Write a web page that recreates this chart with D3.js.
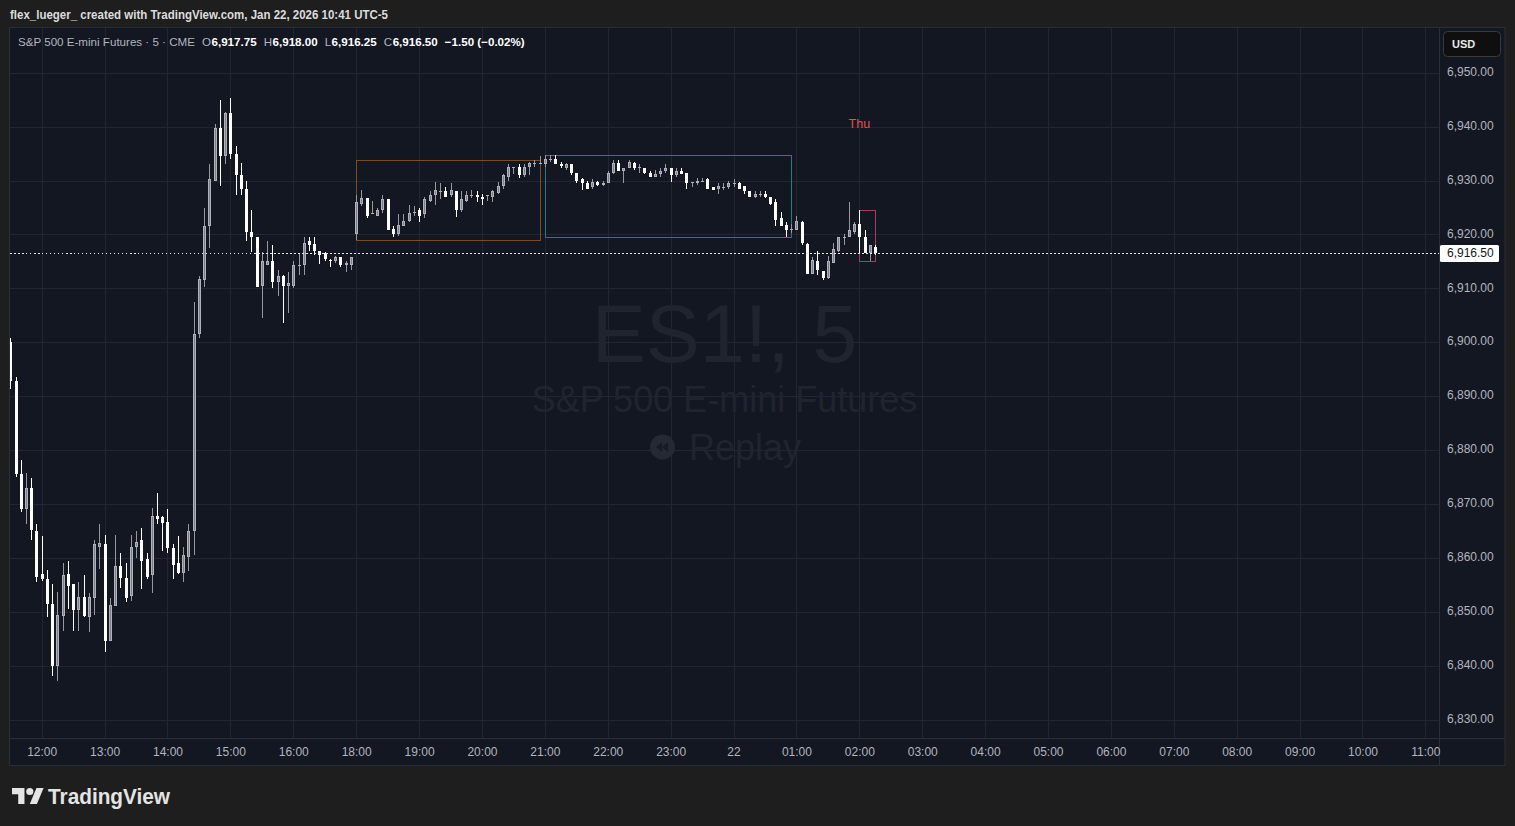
<!DOCTYPE html>
<html>
<head>
<meta charset="utf-8">
<script src="https://cdn.jsdelivr.net/npm/d3@7"></script>
<style>
  html, body { margin: 0; padding: 0; background: #1e1e1e; }
  svg { display: block; }
  text { font-family: "Liberation Sans", Arial, sans-serif; }
</style>
</head>
<body>
<svg id="chart" width="1515" height="826"></svg>
<script>
// ES1! 5-minute bars. Bar index 0 = 12:00; the 17:00 maintenance hour is skipped.
const firstBar = -6;
const opens = [
  6900.00, 6892.75, 6875.50, 6869.00, 6873.00, 6865.00,
  6857.00, 6856.00, 6851.50, 6840.00, 6849.25, 6857.00, 6855.25, 6850.25, 6852.75, 6849.00, 6852.50, 6862.00,
  6862.50, 6844.50, 6851.00, 6858.50, 6856.25, 6853.00, 6862.00, 6863.25, 6859.75, 6856.75, 6867.75, 6867.50,
  6866.75, 6861.75, 6859.00, 6857.25, 6860.25, 6865.00, 6901.50, 6911.50, 6921.50, 6930.00, 6939.75, 6934.50,
  6942.50, 6935.00, 6931.00, 6928.50, 6920.50, 6919.50, 6910.50, 6914.25, 6915.00, 6911.25, 6912.25, 6910.50,
  6910.50, 6914.25, 6914.25, 6918.75, 6918.25, 6917.00, 6916.50, 6915.25, 6915.00, 6915.75, 6914.25, 6914.25,
  6920.00, 6925.75, 6926.75, 6923.75, 6923.50, 6924.50, 6926.50, 6921.00, 6920.00, 6921.50, 6922.50, 6924.25,
  6924.50, 6923.75, 6926.25, 6927.25, 6928.00, 6928.00, 6927.25, 6928.00, 6924.50, 6926.25, 6927.25, 6927.25,
  6927.00, 6927.25, 6927.00, 6927.75, 6929.00, 6930.75, 6932.50, 6932.50, 6931.00, 6932.50, 6933.25, 6933.25,
  6933.00, 6934.00, 6934.00, 6933.00, 6932.25, 6933.00, 6931.50, 6930.25, 6929.50, 6928.75, 6929.75, 6929.25,
  6929.50, 6931.50, 6933.25, 6931.75, 6932.25, 6933.25, 6932.50, 6932.25, 6931.50, 6930.75, 6931.25, 6931.75,
  6932.25, 6931.00, 6931.75, 6931.50, 6929.75, 6929.50, 6930.00, 6930.25, 6928.75, 6928.50, 6928.75, 6928.75,
  6929.50, 6929.50, 6929.00, 6928.00, 6927.00, 6927.50, 6927.50, 6927.00, 6926.00, 6923.00, 6921.75, 6920.75,
  6920.75, 6922.25, 6918.25, 6912.75, 6915.00, 6913.25, 6912.00, 6914.75, 6917.00, 6919.50, 6919.50, 6920.50,
  6922.00, 6919.50, 6916.50, 6917.75
];
const highs = [
  6900.75, 6893.50, 6878.25, 6875.75, 6874.75, 6866.25,
  6864.00, 6857.75, 6855.25, 6853.75, 6859.00, 6859.50, 6855.25, 6855.50, 6856.75, 6853.50, 6863.25, 6866.25,
  6864.25, 6852.50, 6864.25, 6861.00, 6859.00, 6864.25, 6865.00, 6865.50, 6861.00, 6869.25, 6872.00, 6867.75,
  6869.00, 6862.50, 6864.00, 6862.00, 6866.25, 6907.50, 6912.25, 6925.00, 6933.00, 6940.50, 6945.00, 6942.75,
  6945.25, 6936.50, 6933.25, 6930.00, 6924.50, 6919.50, 6916.75, 6918.75, 6918.00, 6913.50, 6912.50, 6913.00,
  6915.00, 6916.50, 6919.50, 6919.50, 6919.50, 6917.00, 6916.75, 6915.50, 6916.00, 6915.75, 6915.00, 6915.75,
  6927.25, 6928.25, 6926.75, 6926.25, 6925.00, 6927.25, 6926.50, 6921.50, 6923.75, 6923.75, 6925.50, 6925.25,
  6925.00, 6927.00, 6928.00, 6929.75, 6929.50, 6928.75, 6929.50, 6928.00, 6928.00, 6928.00, 6928.25, 6928.00,
  6927.50, 6927.25, 6928.25, 6929.75, 6931.25, 6933.00, 6932.50, 6933.00, 6933.00, 6933.50, 6933.75, 6934.50,
  6934.75, 6934.75, 6934.75, 6933.50, 6933.25, 6933.00, 6931.50, 6930.50, 6930.00, 6930.25, 6930.00, 6930.00,
  6931.75, 6933.75, 6933.75, 6932.25, 6933.75, 6933.50, 6933.00, 6932.25, 6931.75, 6932.00, 6932.25, 6933.00,
  6932.25, 6932.25, 6932.25, 6931.50, 6929.75, 6930.50, 6930.50, 6930.50, 6928.75, 6929.50, 6929.50, 6930.00,
  6930.25, 6929.75, 6929.00, 6928.00, 6928.00, 6928.00, 6928.00, 6927.00, 6926.50, 6924.25, 6922.25, 6922.00,
  6923.50, 6922.50, 6918.50, 6915.75, 6917.00, 6913.25, 6916.00, 6918.50, 6919.50, 6920.00, 6926.00, 6922.25,
  6924.50, 6920.75, 6918.00, 6918.00
];
const lows = [
  6891.25, 6875.00, 6868.50, 6866.25, 6863.25, 6855.50,
  6855.75, 6849.00, 6838.00, 6837.25, 6846.50, 6850.50, 6846.50, 6846.50, 6849.00, 6846.25, 6849.50, 6858.00,
  6842.50, 6844.50, 6851.00, 6854.50, 6851.75, 6852.00, 6860.00, 6854.25, 6856.00, 6853.50, 6866.25, 6861.25,
  6861.00, 6856.00, 6857.00, 6855.50, 6857.50, 6860.50, 6900.75, 6910.25, 6917.50, 6930.00, 6929.00, 6933.00,
  6934.00, 6927.25, 6927.25, 6918.75, 6916.75, 6910.25, 6904.50, 6914.25, 6910.00, 6908.50, 6903.50, 6905.50,
  6910.00, 6912.50, 6912.50, 6917.00, 6916.25, 6914.50, 6915.00, 6914.00, 6914.75, 6914.00, 6913.00, 6913.50,
  6919.00, 6925.25, 6923.00, 6923.75, 6923.50, 6924.00, 6920.75, 6919.50, 6919.75, 6921.50, 6922.25, 6923.50,
  6922.25, 6923.00, 6926.00, 6925.50, 6926.50, 6927.00, 6927.00, 6923.25, 6924.25, 6926.00, 6926.75, 6926.00,
  6925.50, 6926.25, 6926.00, 6927.50, 6928.50, 6930.00, 6931.25, 6930.50, 6930.75, 6931.00, 6932.50, 6933.00,
  6932.50, 6933.50, 6933.00, 6932.25, 6932.00, 6931.00, 6929.50, 6928.25, 6928.50, 6928.50, 6929.00, 6929.00,
  6929.50, 6931.25, 6931.75, 6929.50, 6932.25, 6932.00, 6931.50, 6931.25, 6930.75, 6930.75, 6930.75, 6931.50,
  6929.75, 6930.75, 6931.25, 6928.50, 6928.75, 6929.25, 6929.75, 6928.50, 6928.25, 6927.50, 6928.25, 6928.50,
  6928.75, 6928.50, 6927.50, 6927.00, 6926.75, 6927.00, 6926.75, 6925.50, 6921.50, 6921.50, 6919.50, 6920.25,
  6920.75, 6918.00, 6912.75, 6912.75, 6912.50, 6911.50, 6911.75, 6914.75, 6916.75, 6918.00, 6919.50, 6920.00,
  6916.50, 6916.50, 6915.00, 6916.25
];
const closes = [
  6892.75, 6875.50, 6869.00, 6873.00, 6865.25, 6856.50,
  6856.00, 6851.50, 6840.00, 6849.50, 6856.75, 6854.75, 6850.25, 6852.75, 6849.25, 6852.75, 6862.50, 6862.75,
  6844.50, 6851.25, 6858.50, 6856.25, 6852.50, 6862.00, 6863.00, 6859.50, 6856.50, 6867.75, 6867.25, 6866.50,
  6861.75, 6858.75, 6857.25, 6860.50, 6865.00, 6901.50, 6911.75, 6921.50, 6930.25, 6939.75, 6934.50, 6942.50,
  6935.00, 6931.00, 6928.50, 6920.50, 6919.50, 6910.25, 6915.00, 6915.00, 6911.25, 6912.25, 6910.50, 6911.00,
  6914.25, 6914.25, 6918.50, 6918.00, 6917.00, 6916.25, 6915.50, 6915.00, 6915.75, 6914.25, 6914.75, 6915.75,
  6926.00, 6926.75, 6923.50, 6924.00, 6924.50, 6926.50, 6920.75, 6920.00, 6921.75, 6922.50, 6924.00, 6924.25,
  6923.50, 6926.50, 6927.25, 6928.25, 6928.00, 6927.00, 6928.25, 6924.50, 6926.50, 6927.25, 6927.25, 6927.00,
  6926.50, 6927.25, 6928.00, 6929.00, 6931.00, 6932.50, 6932.50, 6931.00, 6932.50, 6933.25, 6933.25, 6933.25,
  6934.00, 6934.00, 6933.00, 6932.75, 6933.00, 6931.50, 6930.00, 6929.50, 6928.50, 6929.75, 6929.25, 6929.50,
  6931.50, 6933.25, 6931.75, 6932.25, 6933.50, 6932.25, 6932.50, 6931.50, 6930.75, 6931.25, 6931.75, 6932.25,
  6931.00, 6931.75, 6931.25, 6929.50, 6929.75, 6930.00, 6930.00, 6928.50, 6928.25, 6929.00, 6928.75, 6929.50,
  6929.50, 6928.50, 6928.00, 6927.00, 6927.50, 6927.50, 6927.00, 6925.75, 6922.75, 6921.50, 6920.75, 6921.00,
  6922.50, 6918.50, 6912.75, 6915.25, 6913.50, 6912.00, 6915.00, 6917.25, 6919.50, 6919.50, 6920.75, 6922.00,
  6919.50, 6916.50, 6918.00, 6916.50
];

// Axis labels: one per hour (12 bars), bar index 132 is the day change.
const timeLabels = ["12:00", "13:00", "14:00", "15:00", "16:00", "18:00", "19:00", "20:00", "21:00",
  "22:00", "23:00", "22", "01:00", "02:00", "03:00", "04:00", "05:00", "06:00", "07:00", "08:00",
  "09:00", "10:00", "11:00"];
const priceTicks = [6830, 6840, 6850, 6860, 6870, 6880, 6890, 6900, 6910, 6920, 6930, 6940, 6950];

// Range boxes: first bar, last bar, upper and lower price.
const boxFrom = [60, 96, 156];
const boxTo = [95, 143, 159];
const boxTop = [6933.75, 6934.75, 6924.50];
const boxBottom = [6919.00, 6919.50, 6915.00];
const boxColors = ["#7c4e1f", "#257a84", "#a03f63"];

// Session marker
const dayMarkBar = 156;
const dayMarkPrice = 6940.5;
const dayMarkText = "Thu";

// ---------------------------------------------------------------
const W = 1515, H = 826;
const plot = { left: 10, right: 1439, top: 28, bottom: 738 };
const panel = { left: 9.5, right: 1505, top: 27.5, bottom: 765.5 };

const svg = d3.select("#chart");
const fmt = d3.format(",.2f");

const x = d3.scaleLinear().domain([-6.05, 266.6]).range([plot.left, plot.right]);
const y = d3.scaleLinear().domain([6826.59, 6958.31]).range([plot.bottom, plot.top]);

const bars = opens.map((o, k) => ({ i: firstBar + k, o, h: highs[k], l: lows[k], c: closes[k] }));
const last = bars[bars.length - 1];
const prev = bars[bars.length - 2];

// Background
svg.append("rect").attr("width", W).attr("height", H).attr("fill", "#1e1e1e");
svg.append("rect")
  .attr("x", panel.left).attr("y", panel.top)
  .attr("width", panel.right - panel.left).attr("height", panel.bottom - panel.top)
  .attr("fill", "#131722").attr("stroke", "#2c2f36");

const defs = svg.append("defs");
defs.append("clipPath").attr("id", "plotClip")
  .append("rect").attr("x", plot.left).attr("y", plot.top)
  .attr("width", plot.right - plot.left).attr("height", plot.bottom - plot.top);

// Grid
const tickBars = timeLabels.map((_, k) => k * 12);
const grid = svg.append("g").attr("shape-rendering", "crispEdges");
grid.selectAll("line.h").data(priceTicks).join("line")
  .attr("x1", plot.left).attr("x2", plot.right)
  .attr("y1", d => Math.round(y(d)) + 0.5).attr("y2", d => Math.round(y(d)) + 0.5)
  .attr("stroke", "#222632");
grid.selectAll("line.v").data(tickBars).join("line")
  .attr("x1", d => Math.round(x(d)) + 0.5).attr("x2", d => Math.round(x(d)) + 0.5)
  .attr("y1", plot.top).attr("y2", plot.bottom)
  .attr("stroke", "#222632");

// Watermark
const wm = svg.append("g").attr("fill", "#20242f");
const wmX = (plot.left + plot.right) / 2;
wm.append("text").attr("x", wmX).attr("y", 362).attr("text-anchor", "middle")
  .attr("font-size", 81).text("ES1!, 5");
wm.append("text").attr("x", wmX).attr("y", 412).attr("text-anchor", "middle")
  .attr("font-size", 36).text("S&P 500 E-mini Futures");
wm.append("text").attr("x", 689).attr("y", 460)
  .attr("font-size", 36).text("Replay");
wm.append("circle").attr("cx", 662.5).attr("cy", 447).attr("r", 12.5).attr("fill", "#252934");
wm.append("path").attr("fill", "#171b26")
  .attr("d", "M656,447 L662,442 L662,452 Z M662,447 L668,442 L668,452 Z");

// Range boxes
const boxG = svg.append("g").attr("clip-path", "url(#plotClip)").attr("shape-rendering", "crispEdges");
boxG.selectAll("rect").data(boxFrom).join("rect")
  .attr("x", (d) => Math.round(x(d)) + 0.5)
  .attr("y", (d, k) => Math.round(y(boxTop[k])) + 0.5)
  .attr("width", (d, k) => Math.round(x(boxTo[k])) - Math.round(x(d)))
  .attr("height", (d, k) => Math.round(y(boxBottom[k])) - Math.round(y(boxTop[k])))
  .attr("fill", "none")
  .attr("stroke", (d, k) => boxColors[k]);

// Candles
const candleG = svg.append("g").attr("clip-path", "url(#plotClip)").attr("shape-rendering", "crispEdges");
const isUp = b => b.c >= b.o;
const cxOf = b => Math.round(x(b.i));

candleG.selectAll("rect.wick").data(bars).join("rect").attr("class", "wick")
  .attr("x", b => cxOf(b))
  .attr("y", b => Math.round(y(b.h)))
  .attr("width", 1)
  .attr("height", b => Math.max(1, Math.round(y(b.l)) - Math.round(y(b.h))))
  .attr("fill", b => isUp(b) ? "#9598a1" : "#ffffff");

const bodyTop = b => Math.round(y(Math.max(b.o, b.c)));
const bodyH = b => Math.max(1, Math.round(y(Math.min(b.o, b.c))) - bodyTop(b));

candleG.selectAll("rect.body").data(bars).join("rect").attr("class", "body")
  .attr("x", b => cxOf(b) - 1)
  .attr("y", b => bodyTop(b))
  .attr("width", 3)
  .attr("height", b => bodyH(b))
  .attr("fill", b => isUp(b) ? "#afb2bb" : "#ffffff");

// darker core of the rising bodies
candleG.selectAll("rect.core").data(bars.filter(b => isUp(b) && bodyH(b) > 2)).join("rect")
  .attr("class", "core")
  .attr("x", b => cxOf(b))
  .attr("y", b => bodyTop(b) + 1)
  .attr("width", 1)
  .attr("height", b => bodyH(b) - 2)
  .attr("fill", "#7d808a");

// Session marker
svg.append("text")
  .attr("x", x(dayMarkBar)).attr("y", y(dayMarkPrice)).attr("dy", "0.35em")
  .attr("text-anchor", "middle").attr("font-size", 12.5).attr("fill", "#ec4b51")
  .text(dayMarkText);

// Last price line
svg.append("line")
  .attr("x1", plot.left).attr("x2", plot.right)
  .attr("y1", Math.round(y(last.c)) + 0.5).attr("y2", Math.round(y(last.c)) + 0.5)
  .attr("stroke", "#e6e8ee").attr("stroke-dasharray", "1.5,2.5").attr("shape-rendering", "crispEdges");

// Separators
const sep = svg.append("g").attr("stroke", "#2a2e39").attr("shape-rendering", "crispEdges");
sep.append("line").attr("x1", plot.left).attr("x2", panel.right)
  .attr("y1", plot.bottom + 0.5).attr("y2", plot.bottom + 0.5);
sep.append("line").attr("x1", plot.right + 0.5).attr("x2", plot.right + 0.5)
  .attr("y1", plot.top).attr("y2", panel.bottom);

// Time axis
const xAxis = d3.axisBottom(x).tickValues(tickBars)
  .tickFormat((d, k) => timeLabels[k]).tickSize(0).tickPadding(9);
const xg = svg.append("g").attr("transform", `translate(0,${plot.bottom})`).call(xAxis);
xg.select(".domain").remove();
xg.selectAll("text").attr("fill", "#b2b5be").attr("font-size", 12)
  .attr("font-family", "'Liberation Sans', Arial, sans-serif");

// Price axis
const yAxis = d3.axisRight(y).tickValues(priceTicks).tickFormat(fmt).tickSize(0).tickPadding(8);
const yg = svg.append("g").attr("transform", `translate(${plot.right},0)`).call(yAxis);
yg.select(".domain").remove();
yg.selectAll("text").attr("fill", "#b2b5be").attr("font-size", 12).attr("dy", "0.22em")
  .attr("font-family", "'Liberation Sans', Arial, sans-serif");

// Last price tag
const tagY = Math.round(y(last.c));
svg.append("rect").attr("x", plot.right + 1).attr("y", tagY - 8)
  .attr("width", 59).attr("height", 17).attr("rx", 1.5).attr("fill", "#ffffff");
svg.append("text").attr("x", plot.right + 8).attr("y", tagY).attr("dy", "0.32em")
  .attr("font-size", 12).attr("fill", "#131722").text(fmt(last.c));

// Currency button
svg.append("rect").attr("x", 1443.5).attr("y", 31.5).attr("width", 57).attr("height", 25)
  .attr("rx", 4).attr("fill", "#0f0f0f").attr("stroke", "#3a3a3a");
svg.append("text").attr("x", 1452).attr("y", 48).attr("font-size", 11).attr("font-weight", 700)
  .attr("fill", "#e8e8e8").text("USD");

// Header
svg.append("text").attr("x", 10).attr("y", 18.5).attr("font-size", 12.5).attr("font-weight", 600)
  .attr("fill", "#dcdcdc").attr("textLength", 378).attr("lengthAdjust", "spacingAndGlyphs")
  .text("flex_lueger_ created with TradingView.com, Jan 22, 2026 10:41 UTC-5");

// Legend line
const legend = svg.append("g").attr("font-size", 11.6);
let lx = 18;
const put = (txt, color, bold, gapAfter) => {
  const t = legend.append("text").attr("x", lx).attr("y", 45.5).attr("fill", color)
    .attr("font-weight", bold ? 700 : 400).text(txt);
  lx += t.node().getComputedTextLength() + gapAfter;
};
const change = last.c - prev.c;
const changePct = change / prev.c * 100;
const signed = v => (v < 0 ? "\u2212" : "+") + Math.abs(v).toFixed(2);
put("S&P 500 E-mini Futures \u00b7 5 \u00b7 CME", "#b2b5be", false, 7);
put("O", "#b2b5be", false, 0.5); put(fmt(last.o), "#ffffff", true, 7);
put("H", "#b2b5be", false, 0.5); put(fmt(last.h), "#ffffff", true, 7);
put("L", "#b2b5be", false, 0.5); put(fmt(last.l), "#ffffff", true, 7);
put("C", "#b2b5be", false, 0.5); put(fmt(last.c), "#ffffff", true, 7);
put(`${signed(change)} (${signed(changePct)}%)`, "#ffffff", true, 0);

// Brand mark
const logo = svg.append("g").attr("transform", "translate(12,784.4) scale(0.89)").attr("fill", "#e4e4e4");
logo.append("path").attr("d", "M14 22H7V11H0V4h14v18zM28 22h-8l7.5-18h8L28 22z");
logo.append("circle").attr("cx", 20).attr("cy", 8).attr("r", 4);
svg.append("text").attr("x", 48).attr("y", 804).attr("font-size", 21.5).attr("font-weight", 700)
  .attr("font-family", "Inter, 'Liberation Sans', sans-serif")
  .attr("fill", "#e4e4e4").attr("textLength", 122).attr("lengthAdjust", "spacingAndGlyphs")
  .text("TradingView");
</script>
</body>
</html>
